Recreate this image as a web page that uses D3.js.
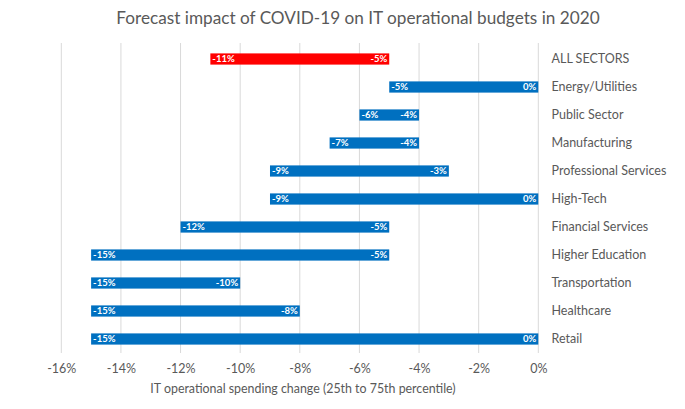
<!DOCTYPE html>
<html>
<head>
<meta charset="utf-8">
<script src="https://cdn.jsdelivr.net/npm/d3@7"></script>
<style>
  body { margin: 0; background: #fff; }
  text { font-family: Lato, "Open Sans", sans-serif; }
</style>
</head>
<body>
<svg id="chart" width="685" height="409"></svg>
<script>
// sectors, top to bottom
const sectors = ["ALL SECTORS", "Energy/Utilities", "Public Sector", "Manufacturing",
  "Professional Services", "High-Tech", "Financial Services", "Higher Education",
  "Transportation", "Healthcare", "Retail"];
// 25th percentile (low) and 75th percentile (high), in %
const low  = [-11, -5, -6, -7, -9, -9, -12, -15, -15, -15, -15];
const high = [-5, 0, -4, -4, -3, 0, -5, -5, -10, -8, 0];
const xTicks = [-16, -14, -12, -10, -8, -6, -4, -2, 0];

const rows = sectors.map((s, i) => ({name: s, lo: low[i], hi: high[i], all: i === 0}));

const svg = d3.select('#chart');
const plotL = 61.3, plotR = 538.3, plotT = 45, plotB = 353;

const x = d3.scaleLinear().domain([-16, 0]).range([plotL, plotR]);
const y = d3.scaleBand().domain(sectors).range([plotT, plotB]).paddingInner(0.6).paddingOuter(0.3);

svg.append('text')
    .attr('x', 358).attr('y', 24)
    .attr('text-anchor', 'middle')
    .attr('font-size', 17.2)
    .attr('fill', '#595959')
    .text('Forecast impact of COVID-19 on IT operational budgets in 2020');

// gridlines
svg.append('g').selectAll('line').data(xTicks).enter()
  .append('line')
    .attr('x1', d => x(d)).attr('x2', d => x(d))
    .attr('y1', 43).attr('y2', plotB)
    .attr('stroke', '#d9d9d9').attr('stroke-width', 1);

// x axis labels
const xAxis = d3.axisBottom(x).tickValues(xTicks).tickSize(0).tickPadding(0)
    .tickFormat(d => d + '%');
const ax = svg.append('g').attr('transform', 'translate(0,' + 364 + ')').call(xAxis);
ax.select('.domain').remove();
ax.selectAll('text').attr('font-size', 12.5).attr('fill', '#595959')
    .attr('font-family', 'Lato, sans-serif');

svg.append('text')
    .attr('x', 303).attr('y', 393)
    .attr('text-anchor', 'middle')
    .attr('font-size', 12.4)
    .attr('fill', '#595959')
    .text('IT operational spending change (25th to 75th percentile)');

// bars
const g = svg.append('g');
const bar = g.selectAll('g').data(rows).enter().append('g');

bar.append('rect')
    .attr('x', d => x(d.lo))
    .attr('y', d => y(d.name))
    .attr('width', d => x(d.hi) - x(d.lo))
    .attr('height', y.bandwidth())
    .attr('fill', d => d.all ? '#ff0000' : '#0070c0');

bar.append('text')
    .attr('x', d => x(d.lo) + 2)
    .attr('y', d => y(d.name) + y.bandwidth() / 2)
    .attr('dy', '0.35em')
    .attr('font-size', 9.5).attr('font-weight', 'bold').attr('fill', '#fff')
    .text(d => d.lo + '%');

bar.append('text')
    .attr('x', d => x(d.hi) - 2)
    .attr('y', d => y(d.name) + y.bandwidth() / 2)
    .attr('dy', '0.35em')
    .attr('text-anchor', 'end')
    .attr('font-size', 9.5).attr('font-weight', 'bold').attr('fill', '#fff')
    .text(d => d.hi + '%');

// category labels on the right
svg.append('g').selectAll('text').data(sectors).enter()
  .append('text')
    .attr('x', 551.5)
    .attr('y', d => y(d) + y.bandwidth() / 2)
    .attr('dy', '0.35em')
    .attr('font-size', 12.5)
    .attr('fill', '#595959')
    .text(d => d);
</script>
</body>
</html>
